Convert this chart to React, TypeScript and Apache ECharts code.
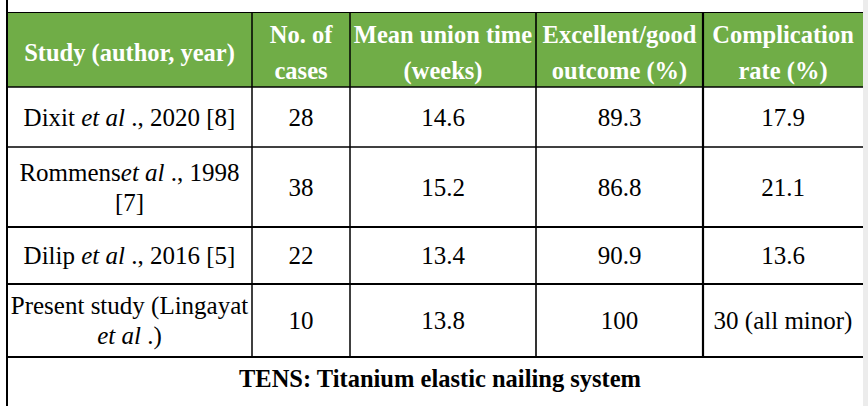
import React, { useEffect, useRef } from "react";
import * as echarts from "echarts";

// ---- table content ----
const headers = [
  "Study (author, year)",
  "No. of\ncases",
  "Mean union time\n(weeks)",
  "Excellent/good\noutcome (%)",
  "Complication\nrate (%)",
];
const studies = [
  "Dixit {i|et al} ., 2020 [8]",
  "Rommens{i|et al} ., 1998\n[7]",
  "Dilip {i|et al} ., 2016 [5]",
  "Present study (Lingayat\n{i|et al} .)",
];
const cases = ["28", "38", "22", "10"];
const unionTime = ["14.6", "15.2", "13.4", "13.8"];
const outcome = ["89.3", "86.8", "90.9", "100"];
const complication = ["17.9", "21.1", "13.6", "30 (all minor)"];
const footnote = "TENS: Titanium elastic nailing system";

// ---- layout (positions, not data) ----
const colEdges = [7, 252, 350, 536, 703, 863];
const rowEdges = [13, 87, 147, 227, 284, 357];
const colLineW = [1.5, 1.5, 1.6, 2.2];
const rowLineW = [1.5, 1.5, 2, 2, 2];
const GREEN = "#70AD47";
const FONT = "Liberation Serif";

// wrap every plain segment of a line into {n|...}
function toRich(txt: string): string {
  return txt
    .split("\n")
    .map((line) => {
      let out = "";
      const re = /\{i\|([^}]*)\}/g;
      let last = 0;
      let m: RegExpExecArray | null;
      while ((m = re.exec(line)) !== null) {
        if (m.index > last) out += "{n|" + line.slice(last, m.index) + "}";
        out += "{i|" + m[1] + "}";
        last = m.index + m[0].length;
      }
      if (last < line.length) out += "{n|" + line.slice(last) + "}";
      return out;
    })
    .join("\n");
}

export default function App() {
  const ref = useRef<HTMLDivElement>(null);
  useEffect(() => {
    if (!ref.current) return;
    const chart = echarts.init(ref.current, undefined, { renderer: "svg" });
    const els: any[] = [];
    const left = colEdges[0];
    const right = colEdges[colEdges.length - 1];

    els.push({
      type: "rect",
      shape: { x: left + 1, y: rowEdges[0], width: right - left - 1, height: rowEdges[1] - rowEdges[0] },
      style: { fill: GREEN },
      z: 0,
    });
    els.push({
      type: "rect",
      shape: { x: right, y: 0, width: 868 - right, height: 406 },
      style: { fill: "#ececec" },
      z: 0,
    });

    headers.forEach((h, i) => {
      els.push({
        type: "text",
        x: (colEdges[i] + colEdges[i + 1]) / 2,
        y: (rowEdges[0] + rowEdges[1]) / 2 + 2,
        z: 3,
        style: {
          text: h,
          fontFamily: FONT,
          fontSize: 24.5,
          fontWeight: "bold",
          fill: "#ffffff",
          align: "center",
          verticalAlign: "middle",
          lineHeight: 36,
        },
      });
    });

    const richStyles = {
      n: { fontFamily: FONT, fontSize: 25, fill: "#000000", lineHeight: 30 },
      i: { fontFamily: FONT, fontSize: 25, fontStyle: "italic", fill: "#000000", lineHeight: 30 },
    };
    const columns = [studies, cases, unionTime, outcome, complication];
    columns.forEach((col, ci) => {
      col.forEach((txt, ri) => {
        const hasRich = txt.indexOf("{i|") >= 0;
        els.push({
          type: "text",
          x: (colEdges[ci] + colEdges[ci + 1]) / 2,
          y: (rowEdges[ri + 1] + rowEdges[ri + 2]) / 2,
          z: 3,
          style: {
            text: hasRich ? toRich(txt) : txt,
            fontFamily: FONT,
            fontSize: 25,
            fill: "#000000",
            align: "center",
            verticalAlign: "middle",
            lineHeight: 30,
            rich: hasRich ? richStyles : undefined,
          },
        });
      });
    });

    els.push({
      type: "text",
      x: (left + right) / 2 + 5,
      y: 378,
      z: 3,
      style: {
        text: footnote,
        fontFamily: FONT,
        fontSize: 24.5,
        fontWeight: "bold",
        fill: "#000000",
        align: "center",
        verticalAlign: "middle",
      },
    });

    els.push({
      type: "line",
      shape: { x1: left, y1: rowEdges[0] - 0.5, x2: right, y2: rowEdges[0] - 0.5 },
      style: { stroke: "#000", lineWidth: 1 },
      z: 2,
    });
    rowEdges.slice(1).forEach((y, i) => {
      els.push({
        type: "line",
        shape: { x1: left, y1: y, x2: right, y2: y },
        style: { stroke: "#000", lineWidth: rowLineW[i] },
        z: 2,
      });
    });
    colEdges.slice(1, -1).forEach((x, i) => {
      els.push({
        type: "line",
        shape: { x1: x, y1: rowEdges[0] - 1, x2: x, y2: rowEdges[rowEdges.length - 1] },
        style: { stroke: "#000", lineWidth: colLineW[i] },
        z: 2,
      });
    });
    els.push({
      type: "line",
      shape: { x1: left, y1: 0, x2: left, y2: 406 },
      style: { stroke: "#000", lineWidth: 2 },
      z: 2,
    });

    chart.setOption({
      animation: false,
      backgroundColor: "#ffffff",
      graphic: { elements: els },
    });
    return () => chart.dispose();
  }, []);
  return (
    <div
      ref={ref}
      style={{ position: "absolute", left: 0, top: 0, width: 868, height: 406 }}
    />
  );
}
